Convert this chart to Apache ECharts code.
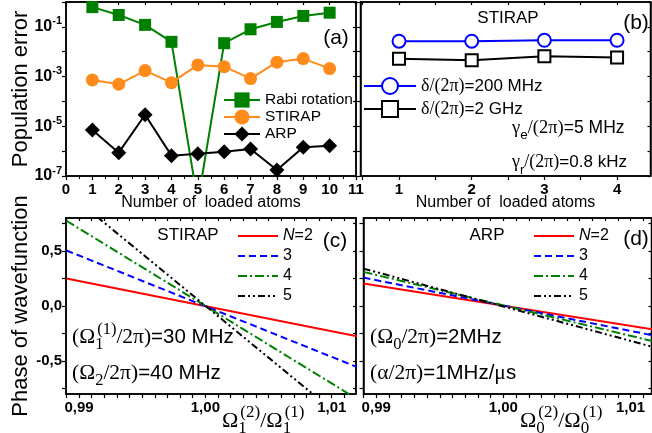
<!DOCTYPE html>
<html>
<head>
<meta charset="utf-8">
<script src="https://cdn.jsdelivr.net/npm/echarts@6.0.0/dist/echarts.min.js"></script>
<style>
html, body { margin: 0; padding: 0; background: #fff; }
#main { width: 652px; height: 433px; }
</style>
</head>
<body>
<div id="main"></div>
<script>
// (a) population error vs number of atoms
const atoms = [1, 2, 3, 4, 5, 6, 7, 8, 9, 10];
const rabiErr = [0.62, 0.30, 0.12, 0.025, 9e-9, 0.022, 0.080, 0.158, 0.275, 0.372];
const stirapErr = [7.3e-4, 4.9e-4, 1.74e-3, 5.7e-4, 2.95e-3, 2.5e-3, 8.3e-4, 3.8e-3, 5.3e-3, 2.1e-3];
const arpErr = [7.1e-6, 8.7e-7, 2.9e-5, 6.6e-7, 7.9e-7, 9.5e-7, 1.23e-6, 1.75e-7, 1.45e-6, 1.63e-6];

// (b) STIRAP for two detunings
const atomsB = [1, 2, 3, 4];
const det200MHz = [0.0264, 0.0264, 0.0289, 0.0289];
const det2GHz = [0.00516, 0.00454, 0.00656, 0.00582];

// (c) STIRAP phase, endpoints of straight lines
const ratioC = [0.989, 1.012];
const stirapN2 = [0.25, -0.275];
const stirapN3 = [0.505, -0.555];
const stirapN4 = [0.775, -0.845];
const stirapN5 = [1.04, -1.13];

// (d) ARP phase
const ratioD = [0.989, 1.0117];
const arpN2 = [0.204, -0.212];
const arpN3 = [0.258, -0.266];
const arpN4 = [0.31, -0.318];
const arpN5 = [0.34, -0.37];

// tick / label positions
const decadeTicks = [1e-7, 1e-6, 1e-5, 1e-4, 1e-3, 1e-2, 1e-1, 1];
const decadeLabels = [1e-7, 1e-5, 1e-3, 1e-1];
const atomTicksB = [0.5, 1, 1.5, 2, 2.5, 3, 3.5, 4];
const atomLabelsB = [1, 2, 3, 4];
const ratioLabels = [0.99, 1.0, 1.01];
const phaseTicks = [-0.75, -0.5, -0.25, 0, 0.25, 0.5, 0.75];
const phaseLabels = [-0.5, 0, 0.5];
const ratioTicks = [];
for (let i = 989; i <= 1011; i++) ratioTicks.push(i / 1000);

const SANS = 'Liberation Sans';
const SERIF = 'Liberation Serif';

const chart = echarts.init(document.getElementById('main'));

const pair = (xs, ys) => xs.map((x, i) => [x, ys[i]]);

const lineAx = { show: true, onZero: false, lineStyle: { color: '#000', width: 1.5 } };
const tick = (vals, inside) => ({ show: true, inside: !!inside, length: inside ? 3 : 4, customValues: vals, lineStyle: { color: '#000', width: 1.2 } });
const lblBase = { fontFamily: SANS, fontWeight: 'bold', fontSize: 15, color: '#000', margin: 4 };
const commaFmt = d => v => v.toFixed(d).replace('.', ',');
const logLabel = {
  ...lblBase,
  customValues: decadeLabels,
  formatter: v => '{b|10}{s|' + Math.round(Math.log10(v)) + '}',
  rich: {
    b: { fontFamily: SANS, fontWeight: 'bold', fontSize: 16, lineHeight: 22 },
    s: { fontFamily: SANS, fontWeight: 'bold', fontSize: 11, verticalAlign: 'top', lineHeight: 12 }
  }
};
const axName = { fontFamily: SANS, fontSize: 16, color: '#000' };
const yName = { fontFamily: SANS, fontSize: 22, color: '#000' };
const noLabel = { show: false };

function mirrorX (grid, min, max, vals) {
  return { type: 'value', gridIndex: grid, position: 'top', min, max, axisLine: lineAx, axisTick: tick(vals, true), axisLabel: noLabel, splitLine: { show: false } };
}
function mirrorY (grid, type, min, max, vals) {
  return { type, gridIndex: grid, position: 'right', min, max, axisLine: lineAx, axisTick: tick(vals, true), axisLabel: noLabel, splitLine: { show: false } };
}

const gridBase = { show: true, borderColor: '#000', borderWidth: 1.5, backgroundColor: 'transparent', containLabel: false, outerBoundsMode: 'none' };

const phaseLine = (name, color, type, xi, xs, ys) => ({
  name, type: 'line', xAxisIndex: xi, yAxisIndex: xi, symbol: 'none', clip: true,
  data: pair(xs, ys), lineStyle: { color, width: 2, type }, itemStyle: { color }
});

const DASH = [7, 4];
const DASHDOT = [9, 3, 2, 3];
const DASHDOTDOT = [7, 3, 2, 3, 2, 3];

const phaseLegend = left => ({
  data: ['N=2', '3', '4', '5'], orient: 'vertical', left, top: 223,
  itemWidth: 40, itemHeight: 14, itemGap: 4, selectedMode: false,
  itemStyle: { opacity: 0 },
  formatter: n => n === 'N=2' ? '{i|N}=2' : n,
  textStyle: { fontFamily: SANS, fontSize: 16, color: '#000', rich: { i: { fontStyle: 'italic', fontSize: 16 } } }
});

const option = {
  animation: false,
  textStyle: { fontFamily: SANS },
  grid: [
    { ...gridBase, left: 66, top: 2, width: 290, height: 174 },
    { ...gridBase, left: 360.5, top: 2, width: 290, height: 174 },
    { ...gridBase, left: 66, top: 218, width: 290, height: 176 },
    { ...gridBase, left: 363.5, top: 218, width: 288, height: 176 }
  ],
  xAxis: [
    {
      type: 'value', gridIndex: 0, min: 0, max: 11, interval: 1,
      axisLine: lineAx, axisTick: { show: true, length: 4, lineStyle: { color: '#000', width: 1.2 } },
      minorTick: { show: true, splitNumber: 2, length: 3, lineStyle: { color: '#000', width: 1 } },
      axisLabel: { ...lblBase, margin: 6 }, splitLine: { show: false },
      name: 'Number of  loaded atoms', nameLocation: 'middle', nameGap: 19, nameMoveOverlap: false, nameTextStyle: axName
    },
    {
      type: 'value', gridIndex: 1, min: 0.47, max: 4.46,
      axisLine: lineAx, axisTick: tick(atomTicksB), axisLabel: { ...lblBase, margin: 6, customValues: atomLabelsB },
      splitLine: { show: false },
      name: 'Number of  loaded atoms', nameLocation: 'middle', nameGap: 19, nameMoveOverlap: false, nameTextStyle: axName
    },
    {
      type: 'value', gridIndex: 2, min: 0.98897, max: 1.01192,
      axisLine: lineAx, axisTick: tick(ratioTicks),
      axisLabel: { ...lblBase, margin: 6, customValues: ratioLabels, formatter: commaFmt(2) }, splitLine: { show: false }
    },
    {
      type: 'value', gridIndex: 3, min: 0.989, max: 1.01165,
      axisLine: lineAx, axisTick: tick(ratioTicks),
      axisLabel: { ...lblBase, margin: 6, customValues: ratioLabels, formatter: commaFmt(2) }, splitLine: { show: false }
    },
    mirrorX(0, 0, 11, atoms.concat([0, 11])),
    mirrorX(1, 0.47, 4.46, atomTicksB),
    mirrorX(2, 0.98897, 1.01192, ratioTicks),
    mirrorX(3, 0.989, 1.01165, ratioTicks)
  ],
  yAxis: [
    {
      type: 'log', gridIndex: 0, min: 1e-7, max: 1, logBase: 10,
      axisLine: lineAx, axisTick: tick(decadeTicks), axisLabel: logLabel, splitLine: { show: false },
      name: 'Population error', nameLocation: 'middle', nameGap: 34, nameMoveOverlap: false, nameTextStyle: yName
    },
    {
      type: 'log', gridIndex: 1, min: 1e-7, max: 1, logBase: 10,
      axisLine: lineAx, axisTick: tick(decadeTicks), axisLabel: noLabel, splitLine: { show: false }
    },
    {
      type: 'value', gridIndex: 2, min: -0.8, max: 0.8,
      axisLine: lineAx, axisTick: tick(phaseTicks),
      axisLabel: { ...lblBase, customValues: phaseLabels, formatter: commaFmt(1) }, splitLine: { show: false },
      name: 'Phase of wavefunction', nameLocation: 'middle', nameGap: 34, nameMoveOverlap: false, nameTextStyle: yName
    },
    {
      type: 'value', gridIndex: 3, min: -0.8, max: 0.8,
      axisLine: lineAx, axisTick: tick(phaseTicks), axisLabel: noLabel, splitLine: { show: false }
    },
    mirrorY(0, 'log', 1e-7, 1, decadeTicks),
    mirrorY(1, 'log', 1e-7, 1, decadeTicks),
    mirrorY(2, 'value', -0.8, 0.8, phaseTicks),
    mirrorY(3, 'value', -0.8, 0.8, phaseTicks)
  ],
  legend: [
    {
      data: ['Rabi rotation', 'STIRAP', 'ARP'], orient: 'vertical', left: 218, top: 87,
      itemWidth: 36, itemHeight: 19, itemGap: 1, selectedMode: false,
      textStyle: { fontFamily: SANS, fontSize: 15.5, color: '#000' }
    },
    {
      data: ['d200', 'd2G'], orient: 'vertical', left: 358, top: 72,
      itemWidth: 52, itemHeight: 20, itemGap: 5, selectedMode: false,
      formatter: n => n === 'd200' ? '{g|δ/(2π)}=200 MHz' : '{g|δ/(2π)}=2 GHz',
      textStyle: { fontFamily: SANS, fontSize: 17, color: '#000', rich: { g: { fontFamily: SERIF, fontSize: 18 } } }
    },
    phaseLegend(232),
    phaseLegend(528)
  ],
  series: [
    {
      name: 'Rabi rotation', type: 'line', xAxisIndex: 0, yAxisIndex: 0, clip: true,
      symbol: 'rect', symbolSize: 12, data: pair(atoms, rabiErr),
      lineStyle: { color: '#008000', width: 2 }, itemStyle: { color: '#008000' }
    },
    {
      name: 'STIRAP', type: 'line', xAxisIndex: 0, yAxisIndex: 0, clip: true,
      symbol: 'circle', symbolSize: 13, data: pair(atoms, stirapErr),
      lineStyle: { color: '#ff8c1a', width: 2 }, itemStyle: { color: '#ff8c1a' }
    },
    {
      name: 'ARP', type: 'line', xAxisIndex: 0, yAxisIndex: 0, clip: true,
      symbol: 'diamond', symbolSize: 15, data: pair(atoms, arpErr),
      lineStyle: { color: '#000', width: 2 }, itemStyle: { color: '#000' }
    },
    {
      name: 'd200', type: 'line', xAxisIndex: 1, yAxisIndex: 1,
      symbol: 'emptyCircle', symbolSize: 13, data: pair(atomsB, det200MHz),
      lineStyle: { color: '#0000ff', width: 2 }, itemStyle: { color: '#0000ff', borderWidth: 2 }
    },
    {
      name: 'd2G', type: 'line', xAxisIndex: 1, yAxisIndex: 1,
      symbol: 'emptyRect', symbolSize: 12, data: pair(atomsB, det2GHz),
      lineStyle: { color: '#000', width: 2 }, itemStyle: { color: '#000', borderWidth: 2 }
    },
    phaseLine('N=2', '#ff0000', 'solid', 2, ratioC, stirapN2),
    phaseLine('3', '#0000ff', DASH, 2, ratioC, stirapN3),
    phaseLine('4', '#008000', DASHDOT, 2, ratioC, stirapN4),
    phaseLine('5', '#000000', DASHDOTDOT, 2, ratioC, stirapN5),
    phaseLine('N=2', '#ff0000', 'solid', 3, ratioD, arpN2),
    phaseLine('3', '#0000ff', DASH, 3, ratioD, arpN3),
    phaseLine('4', '#008000', DASHDOT, 3, ratioD, arpN4),
    phaseLine('5', '#000000', DASHDOTDOT, 3, ratioD, arpN5)
  ],
  graphic: []
};

// text annotations
const richSet = size => ({
  g: { fontFamily: SERIF, fontSize: size + 1, lineHeight: size + 12 },
  t: { fontFamily: SANS, fontSize: size, lineHeight: size + 12 },
  sb: { fontFamily: SERIF, fontSize: size - 4, verticalAlign: 'bottom', lineHeight: size - 3 },
  sbs: { fontFamily: SANS, fontSize: size - 4, verticalAlign: 'bottom', lineHeight: size - 3 },
  sk: { fontFamily: SERIF, fontSize: size - 4, verticalAlign: 'bottom', lineHeight: size - 3, width: 2 },
  sp: { fontFamily: SERIF, fontSize: size - 4, verticalAlign: 'top', lineHeight: size - 3 }
});
const label = (x, y, text, size, align) => ({
  type: 'text', x, y, z: 100,
  style: {
    text, fill: '#000', fontFamily: SANS, fontSize: size,
    align: align || 'left', textAlign: align || 'left', verticalAlign: 'middle', textVerticalAlign: 'middle',
    rich: richSet(size)
  }
});

option.graphic = [
  label(336, 38, '(a)', 21, 'center'),
  label(636, 23, '(b)', 21, 'center'),
  label(508, 18, 'STIRAP', 17, 'center'),
  label(512, 128, '{g|γ}{sbs|e}{g|/(2π)}{t|=5 MHz}', 17.5),
  label(512, 162, '{g|γ}{sbs|r}{g|/(2π)}{t|=0.8 kHz}', 17),
  label(188, 235, 'STIRAP', 17, 'center'),
  label(335, 241, '(c)', 21, 'center'),
  label(487, 235, 'ARP', 17, 'center'),
  label(636, 239, '(d)', 21, 'center'),
  label(72, 337, '{g|(Ω}{sk|1}{sp|(1)}{g|/2π)}{t|=30 MHz}', 20.5),
  label(72, 373, '{g|(Ω}{sb|2}{g|/2π)}{t|=40 MHz}', 20.5),
  label(370, 337, '{g|(Ω}{sb|0}{g|/2π)}{t|=2MHz}', 20.5),
  label(370, 373, '{g|(α/2π)}{t|=1MHz/}{g|μ}{t|s}', 20.5),
  label(222, 421, '{g|Ω}{sk|1}{sp|(2)}{g|/Ω}{sk|1}{sp|(1)}', 21),
  label(520, 421, '{g|Ω}{sk|0}{sp|(2)}{g|/Ω}{sk|0}{sp|(1)}', 21)
];

chart.setOption(option);
</script>
</body>
</html>
